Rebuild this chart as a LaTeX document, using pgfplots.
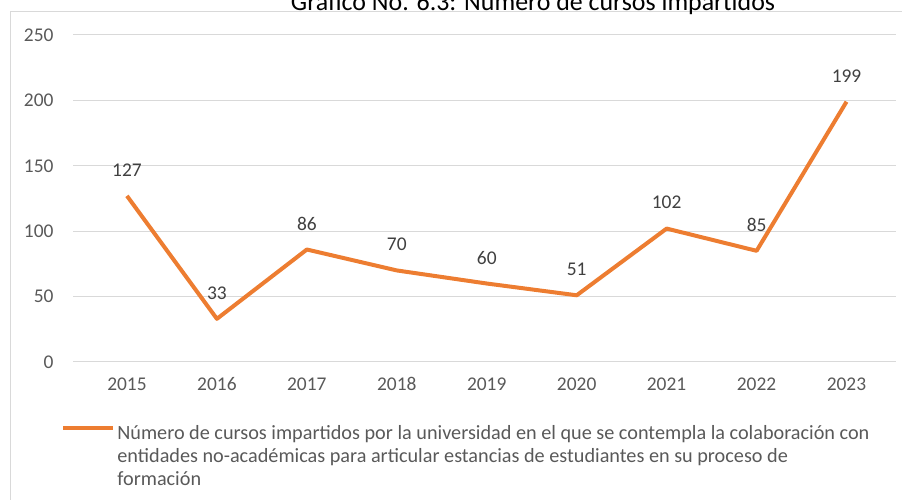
\documentclass[border=0pt]{standalone}
\usepackage{pgfplots}
\pgfplotsset{compat=1.18}
\usepackage{fontspec}
\setmainfont{Carlito}
\definecolor{orangeline}{HTML}{ED7D31}
\definecolor{gridgray}{HTML}{D9D9D9}
\definecolor{txtgray}{HTML}{595959}
\definecolor{lblgray}{HTML}{404040}
\begin{document}
\begin{tikzpicture}
\useasboundingbox (0bp,0bp) rectangle (902bp,500bp);
\draw[gridgray, line width=1bp] (10bp,-10bp) rectangle (912bp,488bp);
\node[anchor=base, font=\fontsize{26}{30}\selectfont, text=black] at (533bp,489bp) {Gráfico No. 6.3: Número de cursos impartidos};
\begin{axis}[
  at={(73bp,138bp)}, anchor=south west,
  scale only axis, width=823bp, height=327bp,
  xmin=2014.4, xmax=2023.55, ymin=0, ymax=250,
  xtick={2015,...,2023},
  ytick={0,50,...,250},
  xticklabel style={/pgf/number format/1000 sep={}},
  /pgf/number format/assume math mode=true,
  ymajorgrids, grid style={gridgray, line width=1bp},
  axis line style={draw=none},
  major tick length=0pt,
  tick label style={font=\fontsize{19.5}{22}\selectfont, text=txtgray},
  yticklabel style={xshift=-16bp},
  xticklabel style={yshift=-12bp},
  clip=false,
  legend style={at={(-0.018,-0.18)}, anchor=north west, draw=none, fill=none,
    font=\fontsize{20.3}{23.5}\selectfont, text=txtgray,
    legend cell align=left},
  legend image code/.code={\draw[#1, line width=4bp] (0bp,5bp) -- (50bp,5bp);},
  nodes near coords,
  every node near coord/.append style={anchor=center, yshift=26bp, font=\fontsize{19.5}{22}\selectfont, text=lblgray},
]
\addplot[orangeline, line width=4bp, mark=none, line join=round] coordinates {
(2015,127) (2016,33) (2017,86) (2018,70) (2019,60) (2020,51) (2021,102) (2022,85) (2023,199)
};
\addlegendentry{\parbox[t]{790bp}{\raggedright Número de cursos impartidos por la universidad en el que se contempla la colaboración con\\ entidades no-académicas para articular estancias de estudiantes en su proceso de\\ formación}}
\end{axis}
\end{tikzpicture}
\end{document}
